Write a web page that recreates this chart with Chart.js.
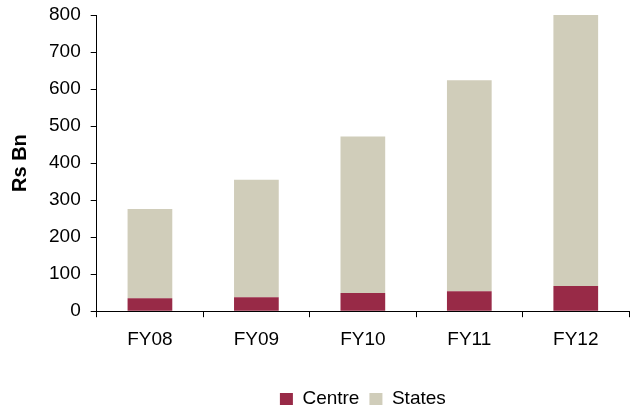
<!DOCTYPE html>
<html>
<head>
<meta charset="utf-8">
<style>
  html, body { margin: 0; padding: 0; background: #fff; }
  #wrap { width: 639px; height: 410px; }
</style>
<script src="https://cdn.jsdelivr.net/npm/chart.js@4.4.0/dist/chart.umd.min.js"></script>
</head>
<body>
<div id="wrap"><canvas id="chart"></canvas></div>
<script>
const years = ["FY08", "FY09", "FY10", "FY11", "FY12"];
const centre = [35, 38, 49, 54, 68];
const states = [241, 317, 423, 570, 732];

const axisColor = "#000000";
const font = { family: "'Liberation Sans', Arial, sans-serif", size: 19 };

new Chart(document.getElementById("chart"), {
  type: "bar",
  data: {
    labels: years,
    datasets: [
      { label: "Centre", data: centre, backgroundColor: "#982A47" },
      { label: "States", data: states, backgroundColor: "#D0CDBA" },
    ],
  },
  options: {
    responsive: true,
    maintainAspectRatio: false,
    animation: false,
    categoryPercentage: 1,
    barPercentage: 0.42,
    layout: { padding: { left: 4, right: 10, top: 15, bottom: -8.5 } },
    plugins: {
      tooltip: { enabled: false },
      legend: {
        position: "bottom",
        fullSize: false, // centre the legend under the plot area
        // empty title only used as a spacer above the legend items
        title: { display: true, text: "", font: { size: 10, lineHeight: 1 }, padding: { top: 7.5, bottom: 0 } },
        labels: {
          color: "#000",
          font: font,
          boxWidth: 13,
          boxHeight: 12,
          padding: 10,
        },
      },
    },
    scales: {
      x: {
        stacked: true,
        border: { color: axisColor, width: 1 },
        grid: { drawOnChartArea: false, offset: true, tickLength: 6, color: axisColor },
        ticks: { color: "#000", font: font, padding: 11 },
      },
      y: {
        stacked: true,
        min: 0,
        max: 800,
        border: { color: axisColor, width: 1 },
        grid: { drawOnChartArea: false, tickLength: 6, color: axisColor },
        ticks: { stepSize: 100, color: "#000", font: font, padding: 10 },
        // top offset comes from layout padding instead of the label overhang
        afterFit: (scale) => { scale.paddingTop = 0; },
        title: {
          display: true,
          text: "Rs Bn",
          color: "#000",
          font: { family: font.family, size: 20, weight: "bold" },
          padding: { top: 4, bottom: 7 },
        },
      },
    },
  },
});
</script>
</body>
</html>
